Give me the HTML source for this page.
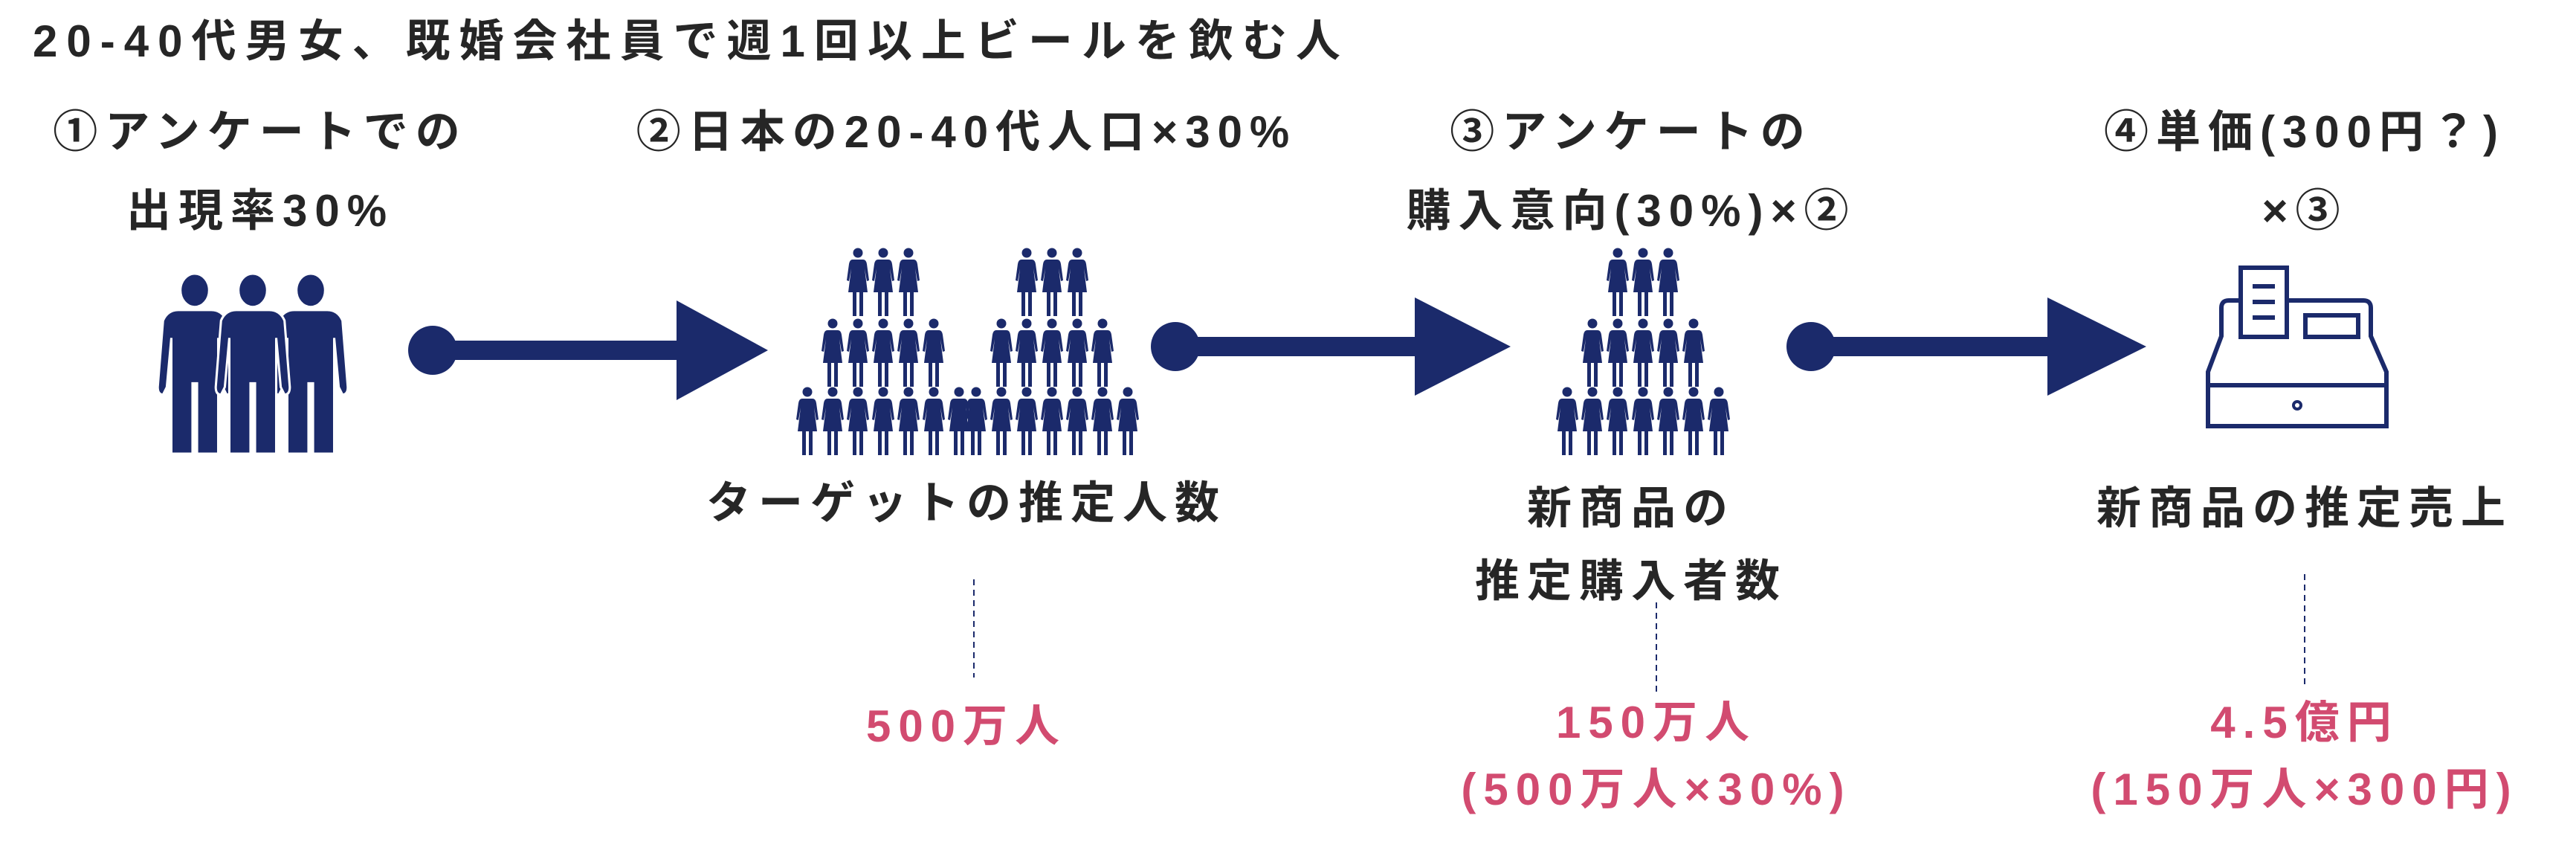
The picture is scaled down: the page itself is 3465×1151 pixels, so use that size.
<!DOCTYPE html>
<html><head><meta charset="utf-8"><style>
html,body{margin:0;padding:0;background:#fff;}
#c{position:relative;width:3465px;height:1151px;overflow:hidden;font-family:"Liberation Sans","Noto Sans CJK JP",sans-serif;font-weight:bold;color:#262626;}
.t{position:absolute;white-space:nowrap;font-size:60px;line-height:1;transform:translate(-50%,-50%);letter-spacing:10px;}
.p{color:#d24b70;}
svg{position:absolute;left:0;top:0;}
</style></head><body><div id="c">
<svg width="3465" height="1151" viewBox="0 0 3465 1151">
<defs>
<symbol id="w" viewBox="0 0 34 92" overflow="visible">
<circle cx="17" cy="7" r="6.5" fill="#1b2a6b"/>
<path d="M10 16 L24 16 Q28 16 29 22 L32 44 L29 45 L26 28 L30 60 L4 60 L8 28 L5 45 L2 44 L5 22 Q6 16 10 16Z" fill="#1b2a6b"/>
<rect x="10" y="58" width="5" height="34" fill="#1b2a6b"/>
<rect x="19" y="58" width="5" height="34" fill="#1b2a6b"/>
</symbol>
<symbol id="m" viewBox="-50 0 100 240" overflow="visible">
<g fill="#1b2a6b" stroke="#fff" stroke-width="3">
<ellipse cx="0" cy="22" rx="19" ry="22"/>
<path d="M-22 48 L22 48 Q36 48 42 62 L49 150 Q49 160 42 160 L37 150 L31 85 L31 238 L3 238 L3 145 L-3 145 L-3 238 L-31 238 L-31 85 L-37 150 L-42 160 Q-49 160 -49 150 L-42 62 Q-36 48 -22 48Z"/>
</g>
</symbol>
</defs>
<use href="#m" x="210" y="368" width="104" height="244"/>
<use href="#m" x="366" y="368" width="104" height="244"/>
<use href="#m" x="288" y="368" width="104" height="244"/>
<g fill="#1b2a6b">
<circle cx="582" cy="471" r="33"/><rect x="582" y="458" width="330" height="26"/><polygon points="910,404 1033,471 910,538"/>
<circle cx="1581" cy="466" r="33"/><rect x="1581" y="453" width="325" height="26"/><polygon points="1903,400 2032,466 1903,532"/>
<circle cx="2436" cy="466" r="33"/><rect x="2436" y="453" width="320" height="26"/><polygon points="2754,400 2887,466 2754,532"/>
</g>
<g>
<use href="#w" x="1137" y="333" width="34" height="92"/><use href="#w" x="1171" y="333" width="34" height="92"/><use href="#w" x="1205" y="333" width="34" height="92"/>
<use href="#w" x="1364" y="333" width="34" height="92"/><use href="#w" x="1398" y="333" width="34" height="92"/><use href="#w" x="1432" y="333" width="34" height="92"/>
<use href="#w" x="1103" y="428" width="34" height="92"/><use href="#w" x="1137" y="428" width="34" height="92"/><use href="#w" x="1171" y="428" width="34" height="92"/><use href="#w" x="1205" y="428" width="34" height="92"/><use href="#w" x="1239" y="428" width="34" height="92"/>
<use href="#w" x="1330" y="428" width="34" height="92"/><use href="#w" x="1364" y="428" width="34" height="92"/><use href="#w" x="1398" y="428" width="34" height="92"/><use href="#w" x="1432" y="428" width="34" height="92"/><use href="#w" x="1466" y="428" width="34" height="92"/>
<use href="#w" x="1069" y="520" width="34" height="92"/><use href="#w" x="1103" y="520" width="34" height="92"/><use href="#w" x="1137" y="520" width="34" height="92"/><use href="#w" x="1171" y="520" width="34" height="92"/><use href="#w" x="1205" y="520" width="34" height="92"/><use href="#w" x="1239" y="520" width="34" height="92"/><use href="#w" x="1273" y="520" width="34" height="92"/>
<use href="#w" x="1296" y="520" width="34" height="92"/><use href="#w" x="1330" y="520" width="34" height="92"/><use href="#w" x="1364" y="520" width="34" height="92"/><use href="#w" x="1398" y="520" width="34" height="92"/><use href="#w" x="1432" y="520" width="34" height="92"/><use href="#w" x="1466" y="520" width="34" height="92"/><use href="#w" x="1500" y="520" width="34" height="92"/>
</g>
<use href="#w" x="2159" y="333" width="34" height="92"/><use href="#w" x="2193" y="333" width="34" height="92"/><use href="#w" x="2227" y="333" width="34" height="92"/>
<use href="#w" x="2125" y="428" width="34" height="92"/><use href="#w" x="2159" y="428" width="34" height="92"/><use href="#w" x="2193" y="428" width="34" height="92"/><use href="#w" x="2227" y="428" width="34" height="92"/><use href="#w" x="2261" y="428" width="34" height="92"/>
<use href="#w" x="2091" y="520" width="34" height="92"/><use href="#w" x="2125" y="520" width="34" height="92"/><use href="#w" x="2159" y="520" width="34" height="92"/><use href="#w" x="2193" y="520" width="34" height="92"/><use href="#w" x="2227" y="520" width="34" height="92"/><use href="#w" x="2261" y="520" width="34" height="92"/><use href="#w" x="2295" y="520" width="34" height="92"/>
<g fill="none" stroke="#1b2a6b" stroke-width="6">
<path d="M2988 452 L2988 414 Q2988 404 2998 404 L3179 404 Q3189 404 3189 414 L3189 452 L3210 500 L3210 573 L2970 573 L2970 500 Z"/>
<line x1="2970" y1="518" x2="3210" y2="518"/>
<rect x="3014" y="360" width="62" height="93" fill="#fff"/>
<line x1="3030" y1="385" x2="3060" y2="385"/><line x1="3030" y1="406" x2="3060" y2="406"/><line x1="3030" y1="427" x2="3060" y2="427"/>
<rect x="3101" y="424" width="71" height="29"/>
<circle cx="3090" cy="545" r="5" stroke-width="4"/>
</g>
<g stroke="#1b2a6b" stroke-width="2" stroke-dasharray="8,6">
<line x1="1310" y1="779" x2="1310" y2="911"/>
<line x1="2228" y1="810" x2="2228" y2="930"/>
<line x1="3100" y1="772" x2="3100" y2="922"/>
</g>
</svg>
<div class="t" style="left:44px;top:56px;transform:translateY(-50%);letter-spacing:12px">20-40代男女、既婚会社員で週1回以上ビールを飲む人</div>
<div class="t" style="left:350px;top:178px">①アンケートでの</div>
<div class="t" style="left:350px;top:284px">出現率30%</div>
<div class="t" style="left:1300px;top:178px">②日本の20-40代人口×30%</div>
<div class="t" style="left:2194px;top:178px">③アンケートの</div>
<div class="t" style="left:2194px;top:284px">購入意向(30%)×②</div>
<div class="t" style="left:3100px;top:178px">④単価(300円？)</div>
<div class="t" style="left:3100px;top:284px">×③</div>
<div class="t" style="left:1300px;top:677px">ターゲットの推定人数</div>
<div class="t" style="left:2194px;top:684px">新商品の</div>
<div class="t" style="left:2194px;top:782px">推定購入者数</div>
<div class="t" style="left:3100px;top:684px">新商品の推定売上</div>
<div class="t p" style="left:1300px;top:977px">500万人</div>
<div class="t p" style="left:2228px;top:972px">150万人</div>
<div class="t p" style="left:2228px;top:1062px">(500万人×30%)</div>
<div class="t p" style="left:3100px;top:972px">4.5億円</div>
<div class="t p" style="left:3100px;top:1062px">(150万人×300円)</div>
</div></body></html>
